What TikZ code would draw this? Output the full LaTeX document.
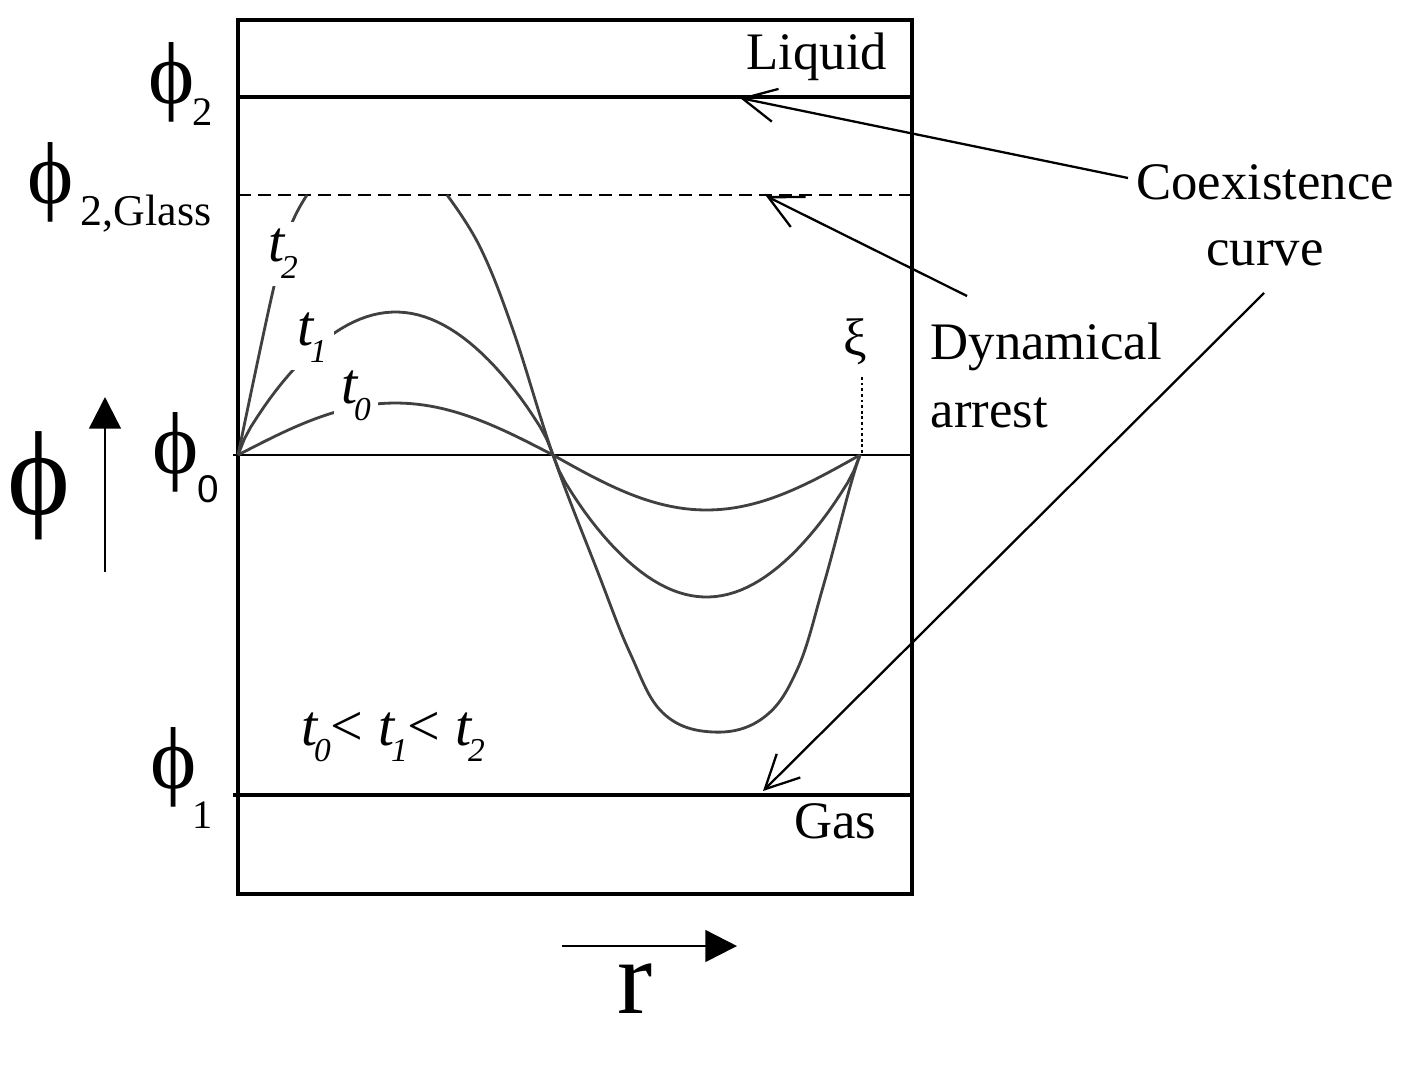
\documentclass[tikz,border=0pt]{standalone}
\usepackage{fontspec}
\setmainfont{Liberation Serif}
\newfontfamily\digitsans{Liberation Sans}
\usetikzlibrary{arrows.meta, positioning}

% italic t with a lowered italic index
\newcommand{\tsub}[1]{\textit{t}\kern-1.2pt\raisebox{-4.8pt}{\fontsize{9.5}{9.5}\selectfont\textit{#1}}}

\begin{document}
\begin{tikzpicture}[x=1cm,y=1cm,
    frame/.style={line width=1.1pt},
    level/.style={line width=1.1pt},
    curve/.style={line width=0.8pt, black!75},
    leader/.style={line width=0.65pt, -{Straight Barb[length=9.5pt,width=9.5pt]}},
    axis/.style={line width=0.7pt, -{Triangle[length=9pt,width=9pt]}},
    word/.style={font=\fontsize{15}{19.3}\selectfont, inner sep=0pt},
    phisym/.style={font=\fontsize{25}{25}\selectfont, inner sep=0pt},
    phisub/.style={font=\fontsize{11.5}{12}\selectfont, inner sep=0pt, anchor=base},
    tlabel/.style={font=\fontsize{16.5}{16.5}\selectfont, fill=white, inner sep=2pt}]
    \useasboundingbox (0,0) rectangle (14.04,10.64);
    \fill[white] (0,0) rectangle (14.04,10.64);

    % frame and levels
    \draw[frame] (2.38,1.70) rectangle (9.12,10.44);
    \draw[level] (2.38,9.67) -- (9.12,9.67);
    \draw[line width=0.75pt, dash pattern=on 3.7pt off 2pt] (2.38,8.69) -- (9.12,8.69);
    \draw[line width=0.6pt] (2.33,6.09) -- (9.12,6.09);
    \draw[level] (2.33,2.69) -- (9.12,2.69);

    \coordinate (rOrigin) at (2.38,6.09);
    \coordinate (rXi) at (8.62,6.09);
    \coordinate (xiTop) at (8.62,6.87);

    % profiles at t0, t1, t2
    \draw[curve] plot[domain=2.38:5.53, samples=50] (\x, {6.09+0.52*sin(180*(\x-2.38)/3.15)})
        -- plot[domain=5.53:8.60, samples=50] (\x, {6.09-0.55*sin(180*(\x-5.53)/3.07)});
    \draw[curve] plot[domain=2.38:5.53, samples=50] (\x, {6.09+1.43*abs(sin(180*(\x-2.38)/3.15))^0.8})
        -- plot[domain=5.53:8.60, samples=50] (\x, {6.09-1.42*abs(sin(180*(\x-5.53)/3.07))^0.8});
    \draw[curve] plot[smooth, tension=0.6] coordinates {(2.38,6.09) (2.72,7.69) (2.90,8.36) (3.07,8.69)};
    \draw[curve] plot[smooth, tension=0.65] coordinates {(4.47,8.69) (4.80,8.17) (5.13,7.34) (5.53,6.09) (5.97,4.94) (6.30,4.11) (6.63,3.51) (7.13,3.32) (7.63,3.46) (7.97,3.94) (8.23,4.77) (8.50,5.77) (8.60,6.09)};

    \node[tlabel] (tzero) at (3.56,6.68) {\tsub{0}};
    \node[tlabel] (tone) at (3.12,7.26) {\tsub{1}};
    \node[tlabel] (ttwo) at (2.83,8.10) {\tsub{2}};
    \node[tlabel, fill=none] (order) at (3.93,3.27) {\tsub{0}\textup{<} \tsub{1}\textup{<} \tsub{2}};

    \draw[line width=0.8pt, dash pattern=on 0.8pt off 0.8pt] (xiTop) -- (rXi);
    \node[word] (xi) at (8.55,7.22) {ξ};

    % phase labels
    \node[word, anchor=base] (liquid) at (8.17,9.95) {Liquid};
    \node[word, anchor=base] (gas) at (8.35,2.26) {Gas};
    \node[word, align=center, anchor=base, font=\fontsize{15}{18.5}\selectfont] (coex) at (12.65,7.99) {Coexistence\\curve};
    \node[word, align=left, anchor=base west] (arrest) at (9.30,6.37) {Dynamical\\arrest};

    % phi levels
    \node[phisym] (phiTwo) at (1.72,9.82) {ϕ};
    \node[phisub] (phiTwoSub) at (2.03,9.39) {2};
    \node[phisym] (phiGlass) at (0.51,8.82) {ϕ};
    \node[phisub, font=\fontsize{12.5}{13}\selectfont] (phiGlassSub) at (1.46,8.39) {2,Glass};
    \node[phisym] (phiZero) at (1.76,6.12) {ϕ};
    \node[phisub, font=\fontsize{11}{12}\digitsans] (phiZeroSub) at (2.08,5.62) {0};
    \node[phisym] (phiOne) at (1.74,2.97) {ϕ};
    \node[phisub] (phiOneSub) at (2.03,2.36) {1};

    % leaders
    \coordinate (coexA) at (11.28,8.86);
    \coordinate (coexB) at (12.64,7.71);
    \coordinate (dynA) at (9.67,7.68);
    \coordinate (liqTip) at (7.40,9.66);
    \coordinate (gasTip) at (7.63,2.73);
    \coordinate (glassTip) at (7.66,8.68);
    \draw[leader] (coexA) -- (liqTip);
    \draw[leader] (coexB) -- (gasTip);
    \draw[leader] (dynA) -- (glassTip);

    % axes
    \coordinate (phiTail) at (1.05,4.92);
    \coordinate (phiHead) at (1.05,6.67);
    \coordinate (rTail) at (5.62,1.18);
    \coordinate (rHead) at (7.37,1.18);
    \draw[axis] (phiTail) -- (phiHead);
    \draw[axis] (rTail) -- (rHead);
    \node[phisym, font=\fontsize{34}{34}\selectfont] (phiAxis) at (0.39,5.78) {ϕ};
    \node[word, font=\fontsize{30}{30}\selectfont] (rAxis) at (6.35,0.75) {r};
\end{tikzpicture}
\end{document}
